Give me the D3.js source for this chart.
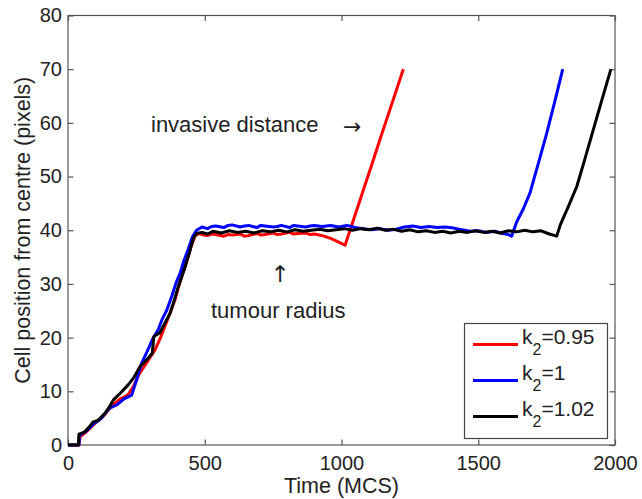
<!DOCTYPE html>
<html>
<head>
<meta charset="utf-8">
<script src="https://cdn.jsdelivr.net/npm/d3@7"></script>
<style>
  body { margin: 0; background: #fff; }
  svg { font-family: "Liberation Sans", Arial, Helvetica, sans-serif; }
</style>
</head>
<body>
<svg width="642" height="499"></svg>
<script>
// series: [time (MCS), position (pixels)]
const redK095 = [[0,0],[40,0],[44,1.5],[70,2.6],[100,4.1],[130,5.4],[160,7.3],[190,8.6],[205,8.9],[220,9.4],[240,11],[260,13.2],[290,15.5],[318,17.7],[340,20.2],[365,23.5],[391,27],[410,30.5],[430,33.5],[450,37],[465,39],[480,39.4],[495,39.1],[510,39.0],[525,39.3],[540,39.2],[570,38.9],[585,39.2],[600,39.1],[630,39.3],[645,38.9],[660,39.0],[690,39.4],[705,39.1],[720,39.2],[750,39.5],[765,39.2],[780,39.3],[810,39.6],[825,39.3],[840,39.4],[870,39.5],[885,39.2],[900,39.3],[930,39.0],[960,38.5],[990,37.8],[1013,37.2],[1030,39.8],[1050,42.9],[1080,47.5],[1110,52.1],[1140,56.8],[1170,61.4],[1200,66.0],[1226,70]];

const blueK1 = [[0,0],[40,0],[42,1.8],[65,2.5],[95,4.0],[120,4.9],[150,6.8],[180,7.5],[205,8.6],[233,9.3],[250,12],[269,15.2],[290,17.5],[310,19.8],[330,21.5],[345,23.5],[361,25.1],[380,27.8],[395,30.2],[410,32],[425,34.5],[440,36.5],[455,38.8],[470,40.0],[490,40.6],[510,40.3],[525,40.7],[540,40.8],[570,40.5],[585,40.9],[600,41.0],[630,40.6],[645,40.8],[660,40.9],[690,40.5],[705,40.9],[720,40.8],[750,40.6],[765,40.7],[780,40.9],[810,40.5],[825,40.9],[840,40.8],[870,40.6],[885,40.8],[900,40.9],[930,40.7],[960,40.9],[990,40.6],[1020,40.9],[1050,40.5],[1080,40.3],[1110,40.1],[1140,40.3],[1170,40.0],[1200,40.2],[1230,40.6],[1260,40.8],[1290,40.5],[1320,40.7],[1350,40.5],[1380,40.6],[1410,40.4],[1440,40.1],[1470,39.8],[1500,39.9],[1530,39.6],[1560,39.8],[1590,39.4],[1610,39.2],[1622,38.9],[1640,41.5],[1665,44],[1689,46.9],[1720,52.5],[1750,58],[1780,64],[1809,70]];

const blackK102 = [[0,0],[38,0],[40,2],[60,2.4],[80,3.5],[92,4.3],[110,4.6],[135,5.9],[150,7],[166,8.4],[190,9.6],[220,11.2],[240,12.5],[263,14.6],[290,16],[308,17.1],[314,20.2],[336,20.9],[355,22.8],[373,24.5],[390,27.2],[403,29.5],[415,31.2],[428,33.2],[445,36],[458,38.5],[470,39.4],[490,39.6],[510,39.3],[530,39.8],[560,39.5],[590,39.9],[620,39.6],[650,39.8],[680,39.5],[710,39.9],[740,39.7],[770,40.0],[800,39.7],[830,40.1],[860,39.8],[890,40.0],[920,40.2],[950,39.9],[980,40.1],[1010,40.3],[1040,40.0],[1070,40.3],[1100,40.1],[1130,40.4],[1160,40.0],[1190,40.2],[1220,39.8],[1250,40.1],[1280,39.7],[1310,39.9],[1340,39.6],[1370,39.8],[1400,39.5],[1430,39.8],[1460,39.6],[1490,39.9],[1520,39.6],[1550,39.8],[1580,39.5],[1610,39.9],[1640,39.7],[1670,40.0],[1700,39.7],[1730,39.9],[1760,39.3],[1787,38.9],[1800,41],[1830,44.5],[1860,48.1],[1890,53.3],[1920,58.6],[1950,63.9],[1985,70]];

const seriesNames = ["0.95", "1", "1.02"];
const seriesColors = ["#ff0000", "#0000ff", "#000000"];
const xTicks = [0, 500, 1000, 1500, 2000];
const yTicks = [0, 10, 20, 30, 40, 50, 60, 70, 80];

const svg = d3.select("svg");
const plotLeft = 68, plotRight = 615, plotTop = 15.5, plotBottom = 445;
const axisColor = "#555";

const x = d3.scaleLinear().domain([0, 2000]).range([plotLeft, plotRight]);
const y = d3.scaleLinear().domain([0, 80]).range([plotBottom, plotTop]);

// frame
svg.append("rect")
    .attr("x", plotLeft).attr("y", plotTop)
    .attr("width", plotRight - plotLeft).attr("height", plotBottom - plotTop)
    .attr("fill", "none").attr("stroke", axisColor).attr("stroke-width", 1.2);

function styleAxis(g, showText) {
    g.select(".domain").remove();
    g.selectAll(".tick line").attr("stroke", axisColor).attr("stroke-width", 1.2);
    g.selectAll("text").attr("fill", "#222").attr("font-size", 20)
        .style("display", showText ? null : "none");
}

const fmt = d3.format("d");
svg.append("g").attr("transform", `translate(0,${plotBottom})`)
    .call(d3.axisBottom(x).tickValues(xTicks).tickFormat(fmt).tickSize(-5.5).tickSizeOuter(0).tickPadding(11))
    .call(g => styleAxis(g, true));
svg.append("g").attr("transform", `translate(0,${plotTop})`)
    .call(d3.axisTop(x).tickValues(xTicks).tickSize(-5.5).tickSizeOuter(0))
    .call(g => styleAxis(g, false));
svg.append("g").attr("transform", `translate(${plotLeft},0)`)
    .call(d3.axisLeft(y).tickValues(yTicks).tickFormat(fmt).tickSize(-5.5).tickSizeOuter(0).tickPadding(6))
    .call(g => styleAxis(g, true));
svg.append("g").attr("transform", `translate(${plotRight},0)`)
    .call(d3.axisRight(y).tickValues(yTicks).tickSize(-5.5).tickSizeOuter(0))
    .call(g => styleAxis(g, false));

// axis labels
svg.append("text")
    .attr("x", (plotLeft + plotRight) / 2).attr("y", 493)
    .attr("text-anchor", "middle").attr("font-size", 21.5).attr("fill", "#222")
    .text("Time (MCS)");
svg.append("text")
    .attr("transform", `translate(29.5,${(plotTop + plotBottom) / 2}) rotate(-90)`)
    .attr("text-anchor", "middle").attr("font-size", 21.5).attr("fill", "#222")
    .text("Cell position from centre (pixels)");

// data lines
const line = d3.line().x(d => x(d[0])).y(d => y(d[1]));
const allSeries = [redK095, blueK1, blackK102];
allSeries.forEach((s, i) => {
    svg.append("path")
        .datum(s)
        .attr("d", line)
        .attr("fill", "none")
        .attr("stroke", seriesColors[i])
        .attr("stroke-width", 3)
        .attr("stroke-linejoin", "round");
});

// annotations
svg.append("text").attr("x", 151).attr("y", 132)
    .attr("font-size", 22).attr("fill", "#222").text("invasive distance");
svg.append("text").attr("x", 343).attr("y", 134)
    .attr("font-family", "DejaVu Sans")
    .attr("font-size", 22).attr("fill", "#222").text("\u2192");
svg.append("text").attr("x", 280).attr("y", 282).attr("text-anchor", "middle")
    .attr("font-family", "DejaVu Sans")
    .attr("font-size", 23).attr("fill", "#222").text("\u2191");
svg.append("text").attr("x", 211).attr("y", 318)
    .attr("font-size", 22).attr("fill", "#222").text("tumour radius");

// legend
const legend = svg.append("g");
legend.append("rect")
    .attr("x", 464.5).attr("y", 323.5).attr("width", 143).attr("height", 115)
    .attr("fill", "#fff").attr("stroke", "#444").attr("stroke-width", 1.2);
const rowY = [344.5, 380.5, 416.5];
seriesNames.forEach((name, i) => {
    legend.append("line")
        .attr("x1", 473).attr("x2", 518)
        .attr("y1", rowY[i]).attr("y2", rowY[i])
        .attr("stroke", seriesColors[i]).attr("stroke-width", 3);
    const t = legend.append("text")
        .attr("x", 522).attr("y", rowY[i] - 0.5)
        .attr("font-size", 21).attr("fill", "#222");
    t.append("tspan").text("k");
    t.append("tspan").attr("dy", 11).attr("font-size", 16).text("2");
    t.append("tspan").attr("dy", -11).text("=" + name);
});
</script>
</body>
</html>
